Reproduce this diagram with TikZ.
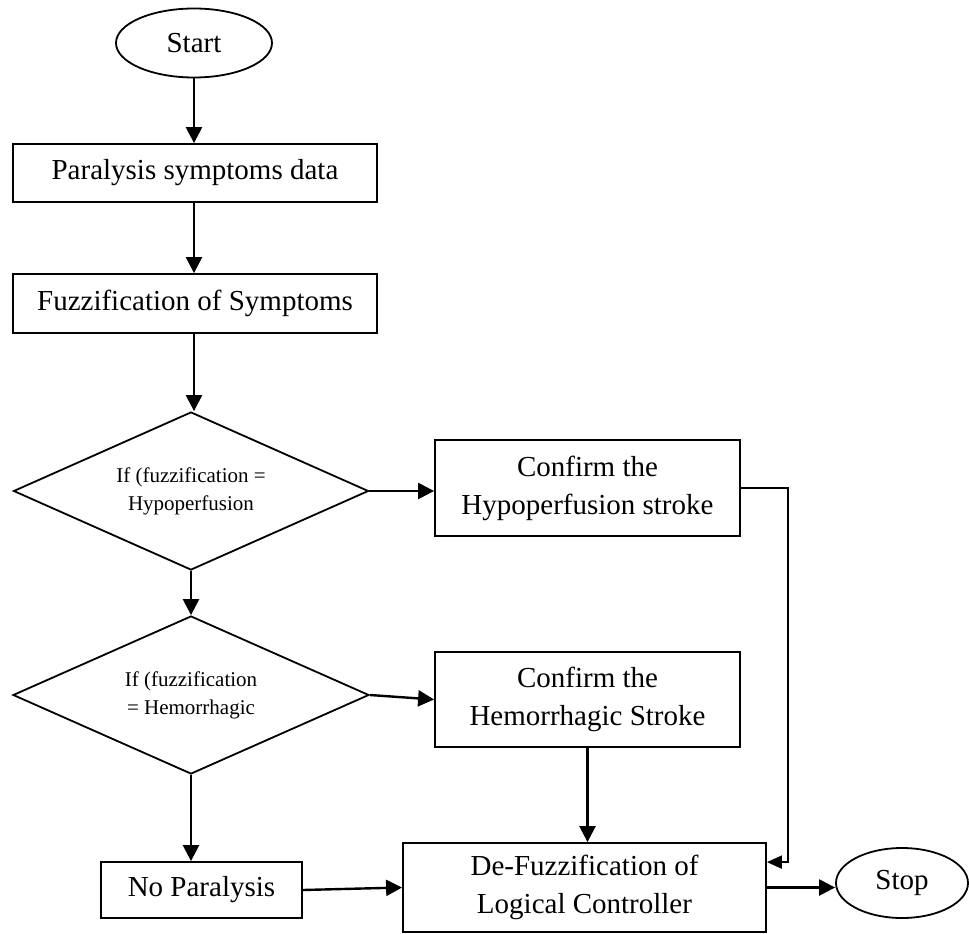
\documentclass[tikz,border=0pt]{standalone}
\usepackage{fontspec}
\setmainfont{Liberation Serif}
\usetikzlibrary{arrows.meta,shapes.geometric,calc}
\tikzset{
  boxtext/.style={font=\fontsize{29}{38}\selectfont, align=center},
  procbox/.style={draw, line width=1.8pt, rectangle, inner sep=0pt, boxtext},
  termnode/.style={draw, line width=1.8pt, ellipse, inner sep=0pt, boxtext},
  decide/.style={draw, line width=1.8pt, diamond, aspect=2.25, inner sep=0pt,
    font=\fontsize{21}{28}\selectfont, align=center},
  flow/.style={line width=2.4pt, -{Triangle[length=16pt,width=16pt]}},
  thinflow/.style={line width=1.8pt, -{Triangle[length=15pt,width=13pt]}}
}
\begin{document}
\begin{tikzpicture}[x=1pt,y=-1pt]
\useasboundingbox (0,0) rectangle (969,934);
\node[termnode, minimum width=156pt, minimum height=69pt] (start) at (194,43) {Start};
\node[procbox, minimum width=364pt, minimum height=58pt] (para) at (195,173) {Paralysis symptoms data};
\node[procbox, minimum width=364pt, minimum height=59pt] (fuzz) at (195,303.5) {Fuzzification of Symptoms};
\node[decide, minimum width=355pt, minimum height=158pt] (d1) at (191,491) {If (fuzzification =\\Hypoperfusion};
\node[procbox, minimum width=305pt, minimum height=96pt] (hypo) at (587.5,488) {Confirm the\\Hypoperfusion stroke};
\node[decide, minimum width=356pt, minimum height=158pt] (d2) at (191,695) {If (fuzzification\\= Hemorrhagic};
\node[procbox, minimum width=305pt, minimum height=95pt] (hem) at (587.5,699.5) {Confirm the\\Hemorrhagic Stroke};
\node[procbox, minimum width=201pt, minimum height=56pt] (nopar) at (201.5,890) {No Paralysis};
\node[procbox, minimum width=363pt, minimum height=89pt] (dfuzz) at (584.5,887.5) {De-Fuzzification of\\Logical Controller};
\node[termnode, minimum width=132pt, minimum height=70pt] (stop) at (902,883) {Stop};

\draw[flow] (start.south) -- (start.south |- para.north);
\draw[flow] (para.south -| start.south) -- (start.south |- fuzz.north);
\draw[flow] (fuzz.south -| start.south) -- (start.south |- d1.north);
\draw[flow] (d1.east) -- (d1.east -| hypo.west);
\draw[flow] (d1.south) -- (d2.north);
\draw[flow] (d2.east) -- (hem.west);
\draw[flow] (d2.south) -- (d2.south |- nopar.north);
\draw[flow] (hem.south) -- (hem.south |- dfuzz.north);
\draw[flow] (nopar.east) -- (dfuzz.west);
\draw[flow] (dfuzz.east) -- (dfuzz.east -| stop.west);
\draw[thinflow] (hypo.east) -- ++(47,0) |- ($(dfuzz.north east)+(0,20)$);
\end{tikzpicture}
\end{document}
